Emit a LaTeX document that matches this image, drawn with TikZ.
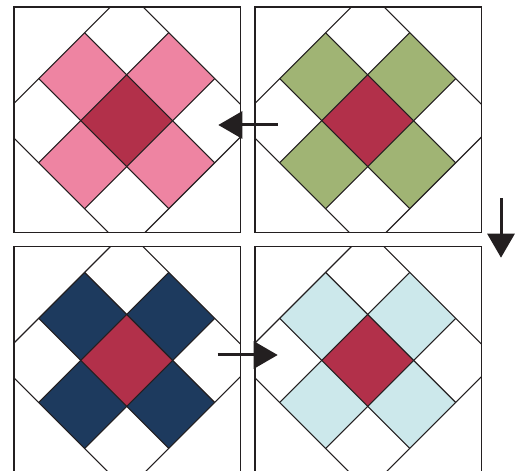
\documentclass[tikz,border=0pt]{standalone}
\usepackage{tikz}
\usetikzlibrary{arrows.meta}
\definecolor{Ink}{HTML}{231F20}
\definecolor{Heart}{HTML}{B2304A}
\definecolor{Rose}{HTML}{EE84A2}
\definecolor{Sage}{HTML}{A0B474}
\definecolor{Navy}{HTML}{1D3A5E}
\definecolor{Ice}{HTML}{CCE8EB}
\tikzset{
  seam/.style={draw=Ink,line width=1.1pt},
  blockEdge/.style={draw=Ink,line width=1.3pt},
  turnArrow/.style={-{Triangle[length=24pt,width=27pt]},line width=3pt,draw=Ink}
}

\begin{document}
\begin{tikzpicture}[x=1pt,y=1pt]
\useasboundingbox (0,0) rectangle (517,471);
\clip (0,0) rectangle (517,471);
% four blocks, same layout, only the petals change colour
\foreach \bx/\by/\petal in {14/238.7/Rose,255/238.7/Sage,14/-1/Navy,255/-1/Ice}{
\begin{scope}[shift={(\bx,\by)}]
  \begin{scope}
    \clip (0,0) rectangle (226.5,225.3);
    \begin{scope}[shift={(112.7,111.6)},rotate=45]
      \fill[Heart] (-32.5,-32.5) rectangle (32.5,32.5);
      \fill[\petal] (32.5,-32.5) rectangle (92,32.5);
      \fill[\petal] (-92,-32.5) rectangle (-32.5,32.5);
      \fill[\petal] (-32.5,32.5) rectangle (32.5,92);
      \fill[\petal] (-32.5,-92) rectangle (32.5,-32.5);
      \foreach \k in {-92,-32.5,32.5,92}{
        \draw[seam] (\k,-92) -- (\k,92);
        \draw[seam] (-92,\k) -- (92,\k);
      }
    \end{scope}
  \end{scope}
  \draw[blockEdge] (0,0) rectangle (226.5,225.3);
\end{scope}
}
% arrows between the blocks
\coordinate (topFrom) at (277.7,346);
\coordinate (topTo) at (218.3,346);
\coordinate (sideFrom) at (501,272.7);
\coordinate (sideTo) at (501,213.3);
\coordinate (lowFrom) at (217.7,116);
\coordinate (lowTo) at (277.7,116);
\draw[turnArrow] (topFrom) -- (topTo);
\draw[turnArrow] (sideFrom) -- (sideTo);
\draw[turnArrow] (lowFrom) -- (lowTo);
\end{tikzpicture}
\end{document}
